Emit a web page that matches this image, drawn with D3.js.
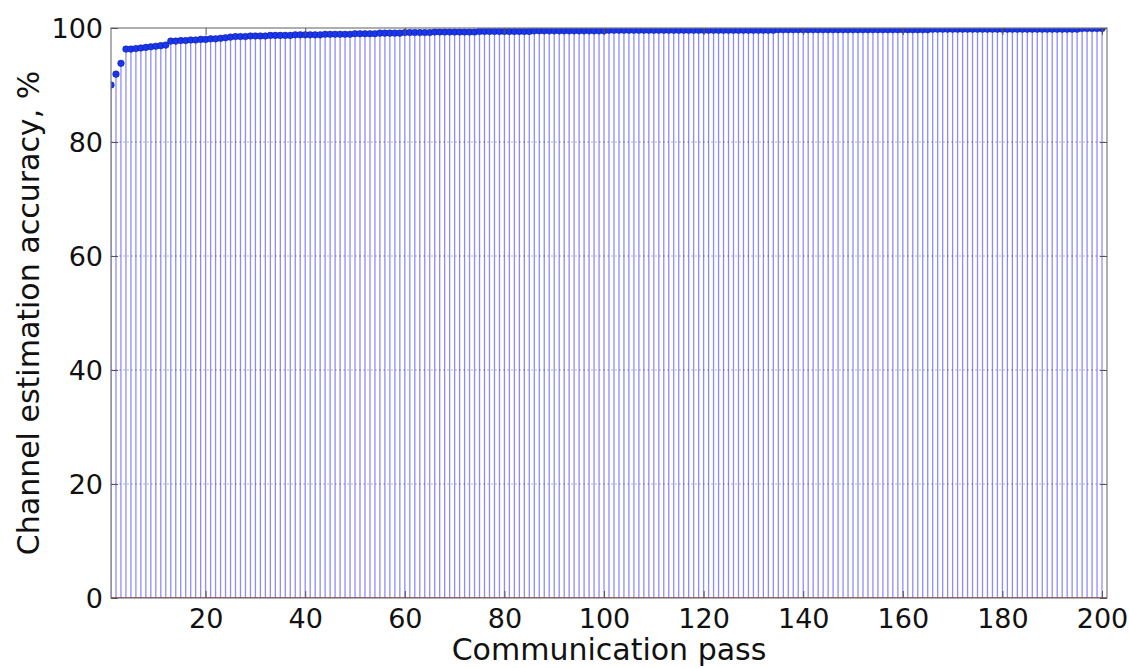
<!DOCTYPE html>
<html>
<head>
<meta charset="utf-8">
<script src="https://cdn.jsdelivr.net/npm/d3@7"></script>
<style>
  body { margin: 0; background: #fff; }
  svg { font-family: "DejaVu Sans", sans-serif; }
</style>
</head>
<body>
<div id="chart"></div>
<script>
// accuracy per communication pass (1..200)
const accuracy = [
  90.0, 91.9, 93.8, 96.3, 96.3, 96.4, 96.5, 96.6, 96.7, 96.8,
  96.9, 97.0, 97.7, 97.7, 97.8, 97.8, 97.9, 97.9, 98.0, 98.0,
  98.1, 98.1, 98.2, 98.3, 98.4, 98.5, 98.5, 98.5, 98.6, 98.6,
  98.6, 98.6, 98.7, 98.7, 98.7, 98.7, 98.7, 98.8, 98.8, 98.8,
  98.8, 98.8, 98.8, 98.9, 98.9, 98.9, 98.9, 98.9, 98.9, 99.0,
  99.0, 99.0, 99.0, 99.0, 99.1, 99.1, 99.1, 99.1, 99.1, 99.2,
  99.2, 99.2, 99.2, 99.2, 99.2, 99.3, 99.3, 99.3, 99.3, 99.3,
  99.3, 99.3, 99.3, 99.3, 99.4, 99.4, 99.4, 99.4, 99.4, 99.4,
  99.4, 99.4, 99.4, 99.4, 99.4, 99.5, 99.5, 99.5, 99.5, 99.5,
  99.5, 99.5, 99.5, 99.5, 99.5, 99.5, 99.5, 99.5, 99.5, 99.5,
  99.6, 99.6, 99.6, 99.6, 99.6, 99.6, 99.6, 99.6, 99.6, 99.6,
  99.6, 99.6, 99.6, 99.6, 99.6, 99.6, 99.6, 99.6, 99.6, 99.6,
  99.6, 99.6, 99.6, 99.6, 99.6, 99.6, 99.6, 99.6, 99.6, 99.6,
  99.6, 99.6, 99.6, 99.6, 99.7, 99.7, 99.7, 99.7, 99.7, 99.7,
  99.7, 99.7, 99.7, 99.7, 99.7, 99.7, 99.7, 99.7, 99.7, 99.7,
  99.7, 99.7, 99.7, 99.7, 99.7, 99.7, 99.7, 99.7, 99.7, 99.7,
  99.7, 99.7, 99.7, 99.7, 99.7, 99.8, 99.8, 99.8, 99.8, 99.8,
  99.8, 99.8, 99.8, 99.8, 99.8, 99.8, 99.8, 99.8, 99.8, 99.8,
  99.8, 99.8, 99.8, 99.8, 99.8, 99.8, 99.8, 99.8, 99.8, 99.8,
  99.8, 99.8, 99.8, 99.8, 99.8, 99.9, 99.9, 99.9, 99.9, 99.9
]
const passes = accuracy.map((d, i) => i + 1)
const xTicks = [20, 40, 60, 80, 100, 120, 140, 160, 180, 200]
const yTicks = [0, 20, 40, 60, 80, 100]

const width = 1129
const height = 668
const margin = {top: 28, right: 22, bottom: 70, left: 111}
const w = width - margin.left - margin.right
const h = height - margin.top - margin.bottom

const x = d3.scaleLinear().domain([1, 201]).range([0, w])
const y = d3.scaleLinear().domain([0, 100]).range([h, 0])

const svg = d3.select('#chart').append('svg')
  .attr('width', width)
  .attr('height', height)

const vis = svg.append('g')
  .attr('transform', `translate(${margin.left},${margin.top})`)

svg.append('clipPath').attr('id', 'clip')
  .append('rect').attr('width', w).attr('height', h)

// grid
vis.append('g')
  .selectAll('line')
  .data(yTicks.filter(t => t > 0 && t < 100))
  .enter().append('line')
    .attr('x1', 0).attr('x2', w)
    .attr('y1', d => y(d)).attr('y2', d => y(d))
    .style('stroke', '#b0b0b0')
    .style('stroke-width', 1)
    .style('stroke-dasharray', '2,2')

const plot = vis.append('g').attr('clip-path', 'url(#clip)')

// stems
plot.selectAll('line.stem')
  .data(accuracy)
  .enter().append('line')
    .attr('class', 'stem')
    .attr('x1', (d, i) => x(passes[i]))
    .attr('x2', (d, i) => x(passes[i]))
    .attr('y1', y(0))
    .attr('y2', d => y(d))
    .style('stroke', '#0000ff')
    .style('stroke-opacity', 0.45)
    .style('stroke-width', 1.3)

// baseline
plot.append('line')
  .attr('x1', 0).attr('x2', w)
  .attr('y1', y(0)).attr('y2', y(0))
  .style('stroke', '#cc0000')
  .style('stroke-width', 1.5)

// markers
plot.selectAll('circle')
  .data(accuracy)
  .enter().append('circle')
    .attr('cx', (d, i) => x(passes[i]))
    .attr('cy', d => y(d))
    .attr('r', 3.3)
    .style('fill', '#1a35ee')
    .style('stroke', '#0a1a8c')
    .style('stroke-width', 0.5)

// frame
vis.append('rect')
  .attr('width', w).attr('height', h)
  .style('fill', 'none')
  .style('stroke', '#7a7a7a')
  .style('stroke-width', 1.2)

// axes with inward ticks
const tickLen = 7
const tickFont = 27
const labelFont = 30

vis.append('g')
  .attr('transform', `translate(0,${h})`)
  .call(d3.axisBottom(x).tickValues(xTicks).tickSize(-tickLen).tickPadding(tickLen + 4))
const yAxis = vis.append('g')
  .call(d3.axisLeft(y).tickValues(yTicks).tickSize(-tickLen).tickPadding(8))
vis.append('g')
  .call(d3.axisTop(x).tickValues(xTicks).tickSize(-tickLen).tickFormat(''))
vis.append('g')
  .attr('transform', `translate(${w},0)`)
  .call(d3.axisRight(y).tickValues(yTicks).tickSize(-tickLen).tickFormat(''))

vis.selectAll('.domain').remove()
vis.selectAll('.tick line').style('stroke', '#555')
vis.selectAll('.tick text')
  .style('font-size', tickFont + 'px')
  .style('font-family', '"DejaVu Sans", sans-serif')
  .style('fill', '#111')
yAxis.selectAll('.tick text').attr('dy', '0.36em')

// labels
svg.append('text')
  .attr('x', margin.left + w / 2)
  .attr('y', height - 8)
  .attr('text-anchor', 'middle')
  .style('font-size', labelFont + 'px')
  .style('fill', '#111')
  .text('Communication pass')

svg.append('text')
  .attr('transform', `translate(39,${margin.top + h / 2}) rotate(-90)`)
  .attr('text-anchor', 'middle')
  .style('font-size', labelFont + 'px')
  .style('fill', '#111')
  .text('Channel estimation accuracy, %')
</script>
</body>
</html>
